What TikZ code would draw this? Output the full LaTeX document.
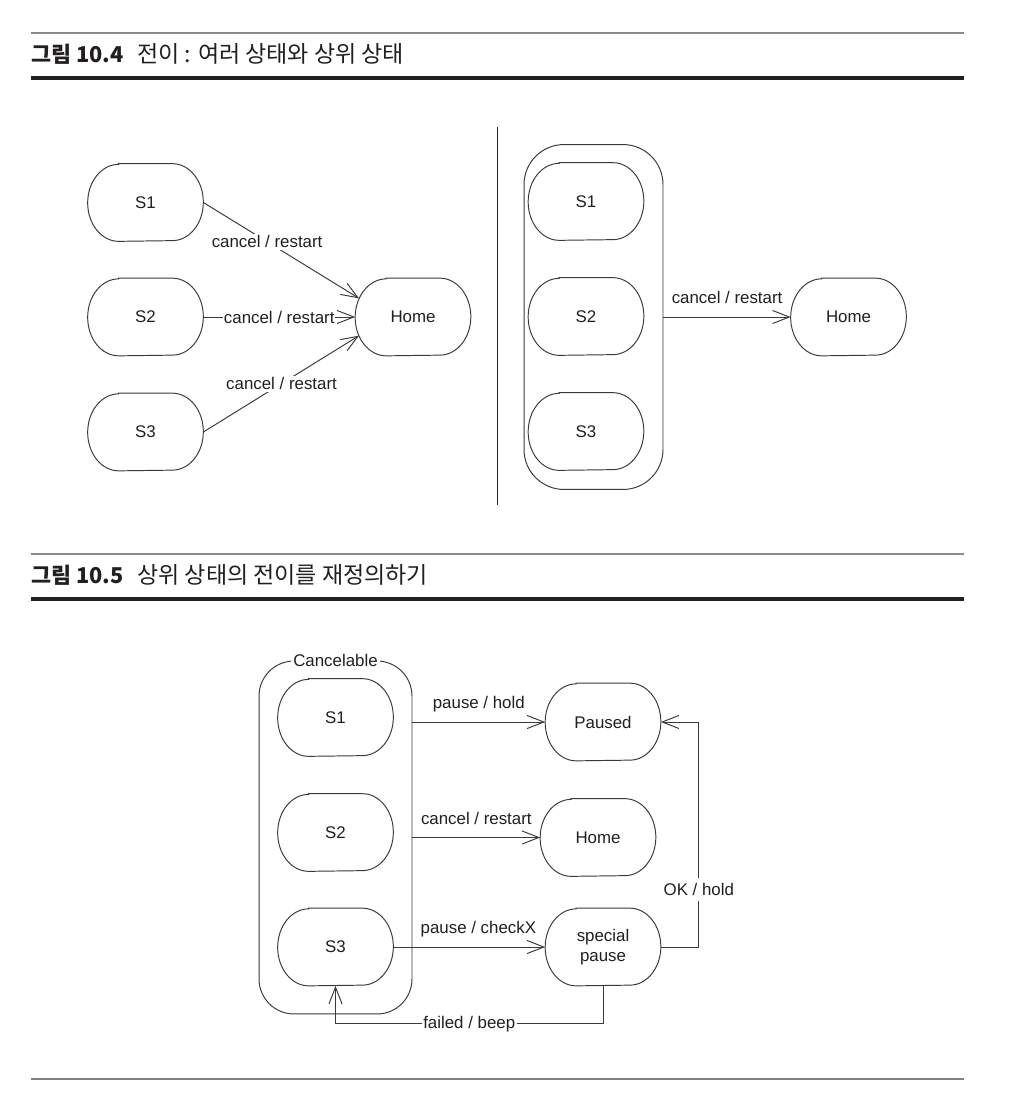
\documentclass[tikz,border=0pt]{standalone}
\usepackage{fontspec}
\setmainfont{Liberation Sans}
\newfontfamily\krfont{Noto Sans CJK KR}
\usetikzlibrary{arrows.meta,calc}
\definecolor{ink}{HTML}{231F20}
\definecolor{edgecol}{HTML}{3A3A3A}
\definecolor{rulegray}{HTML}{8A8A8A}
\begin{document}
\begin{tikzpicture}[x=0.02cm,y=-0.02cm,
  every node/.style={font=\fontsize{9.6pt}{11.5pt}\selectfont, text=ink},
  state/.style={minimum width=2.3cm, minimum height=1.54cm, inner sep=0pt, align=center,
    append after command={\pgfextra{
      \draw[edgecol, line width=0.55pt]
      ([xshift=0.62cm]\tikzlastnode.north west) -- ([xshift=-0.62cm]\tikzlastnode.north east)
      arc[start angle=90, end angle=-90, x radius=0.62cm, y radius=0.77cm]
      -- ([xshift=0.62cm]\tikzlastnode.south west)
      arc[start angle=270, end angle=90, x radius=0.62cm, y radius=0.77cm] -- cycle;}}},
  superstate/.style={draw=edgecol, line width=0.55pt, inner sep=0pt},
  arr/.style={draw=edgecol, line width=0.55pt, -{Straight Barb[length=9.5pt,width=7.4pt]}},
  lbl/.style={fill=white, inner sep=1pt},
  lblabove/.style={anchor=base, yshift=7.6pt, inner sep=0pt},
  thinrule/.style={draw=rulegray, line width=0.85pt},
  thickrule/.style={draw=ink, line width=1.9pt},
  bottomrule/.style={draw=gray, line width=0.9pt},
  divider/.style={draw=ink, line width=0.8pt},
  titlenum/.style={font=\krfont\bfseries\fontsize{12.4pt}{14pt}\selectfont, anchor=base west, inner sep=0pt},
  titletext/.style={font=\krfont\fontsize{13.1pt}{15pt}\selectfont, anchor=base west, inner sep=0pt},
]
\fill[white] (0,0) rectangle (1016,1108);
\useasboundingbox (0,0) rectangle (1016,1108);

% ---------- Figure 10.4 header ----------
\draw[thinrule] (31,33) -- (964,33);
\node[titlenum] (t1n) at (31,62.5) {그림 10.4};
\node[titletext] (t1t) at (137,62.5) {전이 : 여러 상태와 상위 상태};
\draw[thickrule] (31,78) -- (964,78);

% ---------- Figure 10.4 left ----------
\node[state] (L1) at (145.5,202.5) {S1};
\node[state] (L2) at (145.5,317) {S2};
\node[state] (L3) at (145.5,432) {S3};
\node[state] (LH) at (413,317) {Home};
\draw[arr, shorten >=-2.6pt] (L1.east) -- node[lbl, pos=0.42] {cancel / restart} (LH.160);
\draw[arr] (L2.east) -- node[lbl, pos=0.5, inner xsep=0.5pt] {cancel / restart} (LH.west);
\draw[arr, shorten >=-2.6pt] (L3.east) -- node[lbl, pos=0.515] {cancel / restart} (LH.200);

% divider
\draw[divider] (497.5,127) -- (497.5,505);

% ---------- Figure 10.4 right ----------
\node[superstate, rounded corners=0.8cm, minimum width=2.78cm, minimum height=6.9cm] (R0) at (593.5,317) {};
\node[state] (R1) at (586,201.5) {S1};
\node[state] (R2) at (586,316.5) {S2};
\node[state] (R3) at (586,431.5) {S3};
\node[state] (RH) at (848.5,317) {Home};
\draw[arr] (R0.east) -- node[lblabove, pos=0.5] {cancel / restart} (RH.west);

% ---------- Figure 10.5 header ----------
\draw[thinrule] (31,554) -- (964,554);
\node[titlenum] (t2n) at (31,583.5) {그림 10.5};
\node[titletext] (t2t) at (137,583.5) {상위 상태의 전이를 재정의하기};
\draw[thickrule] (31,599) -- (964,599);

% ---------- Figure 10.5 ----------
\node[superstate, rounded corners=0.7cm, minimum width=3.06cm, minimum height=7.06cm] (C0) at (335.5,837.5) {};
\node[lbl, inner ysep=1pt, inner xsep=1.2pt] (C0lbl) at (C0.north) {Cancelable};
\node[state] (S1) at (335.5,717.5) {S1};
\node[state] (S2) at (335.5,832.5) {S2};
\node[state] (S3) at (335.5,947) {S3};
\node[state] (P) at (603,722) {Paused};
\node[state] (H) at (598,837.5) {Home};
\node[state] (SP) at (603,947) {special\\pause};

\draw[arr] (P.west -| C0.east) -- node[lblabove] {pause / hold} (P.west);
\draw[arr] (H.west -| C0.east) -- node[lblabove] {cancel / restart} (H.west);
\draw[arr] (S3.east) -- node[lblabove, pos=0.56] {pause / checkX} (SP.west);
\draw[arr] (SP.east) -- ++(38,0) |- node[lbl, pos=0.127, inner ysep=3pt] {OK / hold} (P.east);
\draw[arr] (SP.south) -- ++(0,38) -| node[lbl, pos=0.25] {failed / beep} (S3.south);

% bottom rule
\draw[bottomrule] (31,1079) -- (964,1079);
\end{tikzpicture}
\end{document}
